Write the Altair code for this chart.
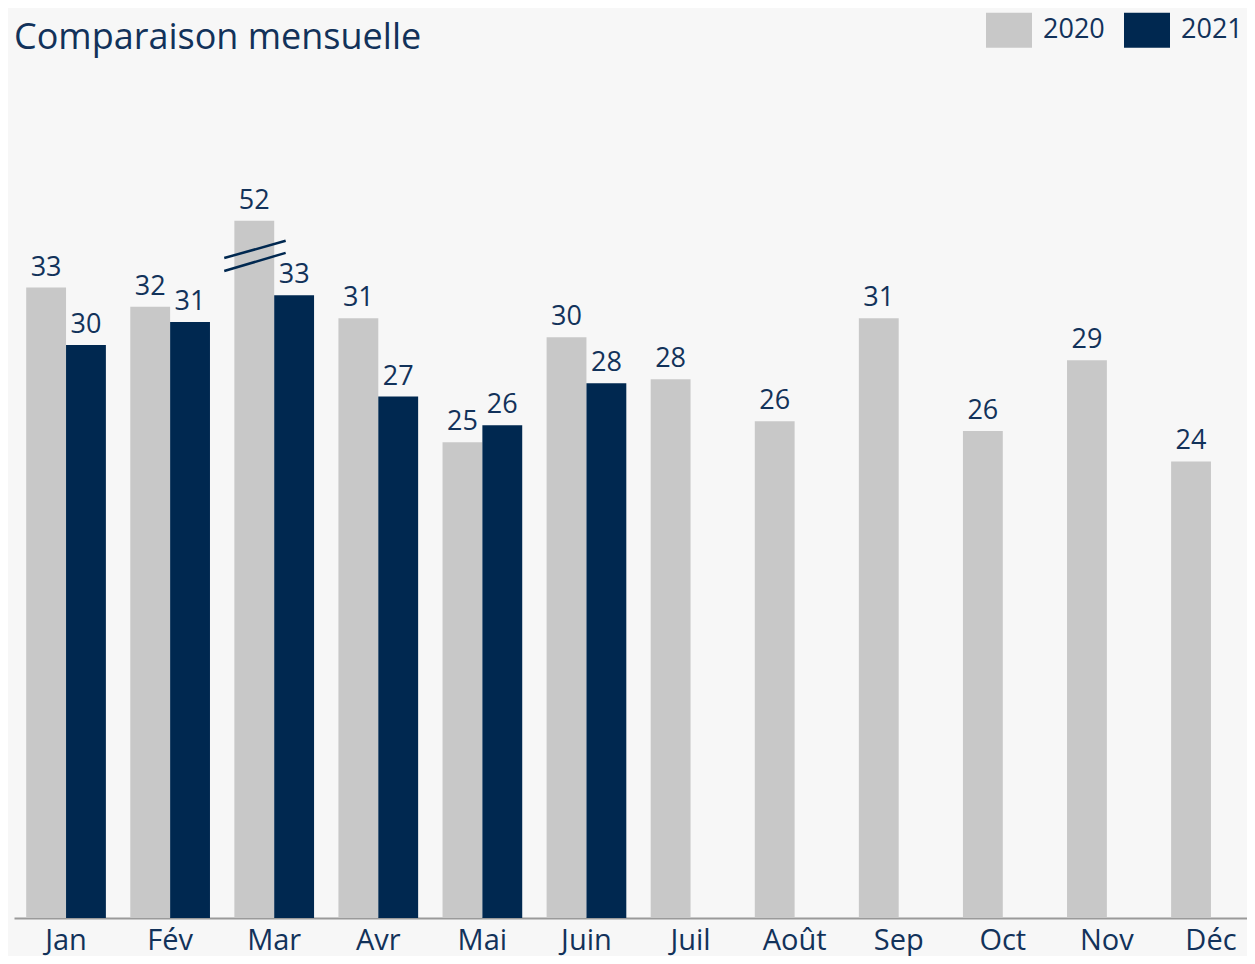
import altair as alt
import pandas as pd

FONT = "Open Sans"
TXT = "#12325a"
NAVY = "#002850"
GRAY = "#c8c8c8"

months = ["Jan", "Fév", "Mar", "Avr", "Mai", "Juin", "Juil", "Août", "Sep", "Oct", "Nov", "Déc"]
years = ["2020", "2021"]

# label values shown above bars
labels_2020 = [33, 32, 52, 31, 25, 30, 28, 26, 31, 26, 29, 24]
labels_2021 = [30, 31, 33, 27, 26, 28]
# bar heights as drawn (March 2020 is drawn truncated with an axis break)
heights_2020 = [33.0, 32.0, 36.5, 31.4, 24.9, 30.4, 28.2, 26.0, 31.4, 25.5, 29.2, 23.9]
heights_2021 = [30.0, 31.2, 32.6, 27.3, 25.8, 28.0]

# axis-break marker on the truncated bar (fraction of month band, value units)
break_month = "Mar"
break_xo = [0.02, 0.61]
break_upper = [34.55, 35.45]
break_lower = [33.87, 34.82]

YMAX = 43.45

rows = []
for m, h, l in zip(months, heights_2020, labels_2020):
    rows.append({"month": m, "year": "2020", "h": h, "label": str(l)})
for m, h, l in zip(months, heights_2021, labels_2021):
    rows.append({"month": m, "year": "2021", "h": h, "label": str(l)})
df = pd.DataFrame(rows)

brk = []
for seg, ys in (("a", break_upper), ("b", break_lower)):
    for xo, yv in zip(break_xo, ys):
        brk.append({"month": break_month, "seg": seg, "xo": xo, "h": yv})
dfb = pd.DataFrame(brk)

x_enc = alt.X(
    "month:N", sort=months,
    scale=alt.Scale(type="band", domain=months, paddingInner=0, paddingOuter=0, range=[0, 1249]),
    axis=alt.Axis(title=None, labelAngle=0, ticks=False, labelFontSize=29,
                  labelFont=FONT, labelColor=TXT, labelPadding=8,
                  domainColor="#9a9a9a", domainWidth=2),
)
y_enc = alt.Y("h:Q", scale=alt.Scale(domain=[0, YMAX], nice=False, zero=True), axis=None)
xo_enc = alt.XOffset("year:N", scale=alt.Scale(type="band", domain=years,
                                               paddingInner=0, paddingOuter=0.306))

bars = alt.Chart(df).mark_bar().encode(
    x=x_enc, y=y_enc, xOffset=xo_enc,
    color=alt.Color(
        "year:N",
        scale=alt.Scale(domain=years, range=[GRAY, NAVY]),
        legend=alt.Legend(
            title=None, orient="none", legendX=972, legendY=-81,
            direction="horizontal",
            symbolType="M-1,-0.76H1V0.76H-1Z", symbolSize=2116,
            symbolStrokeWidth=0, symbolOpacity=1,
            labelFontSize=27, labelFont=FONT, labelColor=TXT,
            labelOffset=11, columnPadding=19,
        ),
    ),
)

texts = alt.Chart(df).mark_text(
    baseline="bottom", dy=-6, fontSize=27, font=FONT, color=TXT
).encode(x=x_enc, y=y_enc, xOffset=xo_enc, text="label:N")

breaks = alt.Chart(dfb).mark_line(color=NAVY, strokeWidth=2.5).encode(
    x=x_enc, y=y_enc,
    xOffset=alt.XOffset("xo:Q", scale=alt.Scale(domain=[0, 1])),
    detail="seg:N",
)

chart = alt.layer(bars, texts, breaks).resolve_scale(xOffset="independent").properties(
    width=1233, height=830,
    title=alt.TitleParams("Comparaison mensuelle", anchor="start", fontSize=36,
                          font=FONT, color=TXT, fontWeight="normal", offset=-50),
    padding={"left": 6, "top": 80, "right": 0, "bottom": 38},
    autosize=alt.AutoSizeParams(type="none"),
).configure(background="#f7f7f7").configure_view(stroke=None)

chart.save("out.html", embed_options={"renderer": "svg", "actions": False})
